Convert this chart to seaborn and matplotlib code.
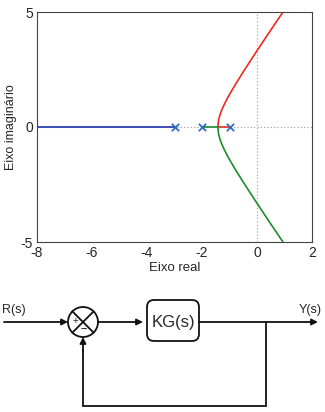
import numpy as np
import pandas as pd
import matplotlib
matplotlib.use("Agg")
import matplotlib.pyplot as plt
import seaborn as sns
from matplotlib.patches import FancyBboxPatch, Circle

# ---- data ----
poles_re = [-3.0, -2.0, -1.0]
poles_im = [0.0, 0.0, 0.0]

blue_re = [-3.0, -8.0]
blue_im = [0.0, 0.0]

# upper branch (red): starts at pole -1, meets at breakaway, goes up
red_re = [-1.0, -1.423, -1.40, -1.35, -1.30, -1.20, -1.10, -1.00, -0.80, -0.50, 0.00, 0.50, 0.90, 0.95]
red_im = [0.0, 0.0, 0.283, 0.517, 0.686, 0.959, 1.196, 1.414, 1.822, 2.398, 3.317, 4.213, 4.922, 5.011]

# lower branch (green): starts at pole -2, meets at breakaway, goes down
green_re = [-2.0, -1.423, -1.40, -1.35, -1.30, -1.20, -1.10, -1.00, -0.80, -0.50, 0.00, 0.50, 0.90, 0.95]
green_im = [0.0, 0.0, -0.283, -0.517, -0.686, -0.959, -1.196, -1.414, -1.822, -2.398, -3.317, -4.213, -4.922, -5.011]

xticks = [-8, -6, -4, -2, 0, 2]
yticks = [-5, 0, 5]

sns.set_style("white")
plt.rcParams['font.family'] = ['Liberation Sans', 'DejaVu Sans']
plt.rcParams['axes.unicode_minus'] = False

W, H = 325, 412
fig = plt.figure(figsize=(W / 100, H / 100), dpi=100)

ax = fig.add_axes([37 / W, 1 - 242 / H, (312 - 37) / W, (242 - 12) / H])
ax.axhline(0, color='#999999', lw=0.8, ls=(0, (1, 2)), zorder=0)
ax.axvline(0, color='#999999', lw=0.8, ls=(0, (1, 2)), zorder=0)

df_b = pd.DataFrame({'re': blue_re, 'im': blue_im})
df_r = pd.DataFrame({'re': red_re, 'im': red_im})
df_g = pd.DataFrame({'re': green_re, 'im': green_im})
sns.lineplot(data=df_b, x='re', y='im', sort=False, estimator=None, color='#3b4fb5', lw=1.4, ax=ax)
sns.lineplot(data=df_r, x='re', y='im', sort=False, estimator=None, color='#ec2a22', lw=1.2, ax=ax)
sns.lineplot(data=df_g, x='re', y='im', sort=False, estimator=None, color='#1e8b2e', lw=1.2, ax=ax)
df_p = pd.DataFrame({'re': poles_re, 'im': poles_im})
sns.scatterplot(data=df_p, x='re', y='im', marker='x', s=28, color='#2f6fbf',
                linewidth=1.3, ax=ax, zorder=5)

ax.set_xlim(-8, 2)
ax.set_ylim(-5, 5)
ax.set_xticks(xticks)
ax.set_yticks(yticks)
ax.tick_params(labelsize=10, length=2, width=0.6, direction='in', color='#888888', pad=3)
ax.set_xlabel('Eixo real', fontsize=9.5, labelpad=1)
ax.set_ylabel('Eixo imaginário', fontsize=9)
ax.yaxis.set_label_coords(-0.072, 0.5)
for s in ax.spines.values():
    s.set_color('#444444')
    s.set_linewidth(0.8)

# ---- block diagram ----
bx = fig.add_axes([0, 0, 1, 132 / H])
bx.set_xlim(0, W)
bx.set_ylim(412, 280)
bx.axis('off')

lw = 1.3
yl = 322
arrow = dict(arrowstyle='-|>', color='#111111', lw=lw, mutation_scale=9, shrinkA=0, shrinkB=0)
# input
bx.annotate('', xy=(68, yl), xytext=(4, yl), arrowprops=arrow)
bx.text(2, 313, 'R(s)', fontsize=9, ha='left', va='baseline')
# summing junction
cx, r = 83, 15
bx.add_patch(Circle((cx, yl), r, fill=False, ec='#111111', lw=lw))
d = r * 0.707
bx.plot([cx - d, cx + d], [yl - d, yl + d], color='#111111', lw=lw)
bx.plot([cx - d, cx + d], [yl + d, yl - d], color='#111111', lw=lw)
bx.text(cx - 8, yl - 1, '+', fontsize=7, ha='center', va='center')
bx.text(cx + 0.5, yl + 8, '–', fontsize=8, ha='center', va='center', fontweight='bold')
# to block
bx.annotate('', xy=(143, yl), xytext=(cx + r, yl), arrowprops=arrow)
bx.add_patch(FancyBboxPatch((147, 300), 52, 41, boxstyle='round,pad=0,rounding_size=7',
                            fill=False, ec='#111111', lw=lw))
bx.text(173, yl, 'KG(s)', fontsize=12, ha='center', va='center')
# output
bx.annotate('', xy=(318, yl), xytext=(199, yl), arrowprops=arrow)
bx.text(322, 313, 'Y(s)', fontsize=9, ha='right', va='baseline')
# feedback
bx.plot([266, 266, cx, cx], [yl, 406, 406, 350], color='#111111', lw=lw, solid_joinstyle='miter')
bx.annotate('', xy=(cx, yl + r), xytext=(cx, 352), arrowprops=arrow)

fig.savefig('out.png', dpi=100)
